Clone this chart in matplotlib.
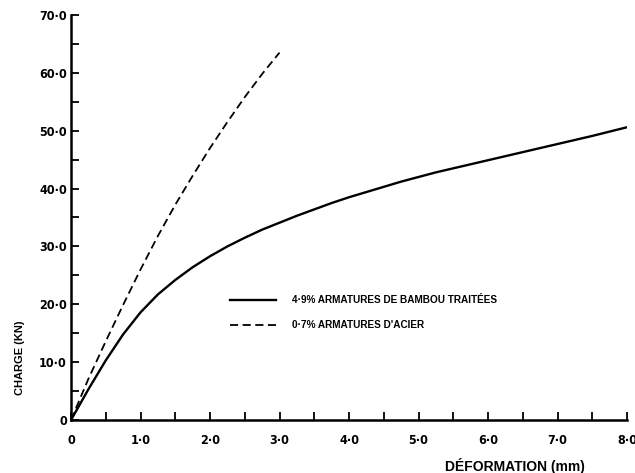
import matplotlib
matplotlib.use("Agg")
import matplotlib.pyplot as plt
from matplotlib.ticker import MultipleLocator

# Data
bamboo_x = [0, 0.25, 0.5, 0.75, 1.0, 1.25, 1.5, 1.75, 2.0, 2.25, 2.5, 2.75, 3.0, 3.25, 3.5, 3.75,
            4.0, 4.25, 4.5, 4.75, 5.0, 5.25, 5.5, 5.75, 6.0, 6.25, 6.5, 6.75, 7.0, 7.25, 7.5, 7.75, 8.0]
bamboo_y = [0, 5.3, 10.3, 14.8, 18.6, 21.7, 24.2, 26.4, 28.3, 30.0, 31.5, 32.9, 34.1, 35.3, 36.4, 37.5,
            38.5, 39.4, 40.3, 41.2, 42.0, 42.8, 43.5, 44.2, 44.9, 45.6, 46.3, 47.0, 47.7, 48.4, 49.1, 49.85, 50.6]

steel_x = [0, 0.25, 0.5, 0.75, 1.0, 1.25, 1.5, 1.75, 2.0, 2.25, 2.5, 2.75, 3.0]
steel_y = [0, 7.1, 13.6, 19.9, 26.0, 31.8, 37.2, 42.2, 47.0, 51.5, 55.8, 59.8, 63.5]

x_ticks = [0, 1, 2, 3, 4, 5, 6, 7, 8]
x_ticklabels = ["0", "1·0", "2·0", "3·0", "4·0", "5·0", "6·0", "7·0", "8·0"]
y_ticks = [0, 10, 20, 30, 40, 50, 60, 70]
y_ticklabels = ["0", "10·0", "20·0", "30·0", "40·0", "50·0", "60·0", "70·0"]

label_bamboo = "4·9% ARMATURES DE BAMBOU TRAITÉES"
label_steel = "0·7% ARMATURES D'ACIER"
xlabel = "DÉFORMATION (mm)"
ylabel = "CHARGE (KN)"

fig = plt.figure(figsize=(6.35, 4.73), dpi=100)
ax = fig.add_axes([71/635, 1 - 420/473, 556/635, 405/473])

ax.plot(bamboo_x, bamboo_y, color="black", lw=1.7, label=label_bamboo,
        solid_joinstyle="round")
ax.plot(steel_x, steel_y, color="black", lw=1.3, linestyle=(0, (4.5, 2.5)), label=label_steel)

ax.set_xlim(0, 8)
ax.set_ylim(0, 70)
ax.spines["top"].set_visible(False)
ax.spines["right"].set_visible(False)
for s in ("left", "bottom"):
    ax.spines[s].set_linewidth(1.8)

ax.set_xticks(x_ticks)
ax.set_xticklabels(x_ticklabels)
ax.set_yticks(y_ticks)
ax.set_yticklabels(y_ticklabels)
ax.xaxis.set_minor_locator(MultipleLocator(0.5))
ax.yaxis.set_minor_locator(MultipleLocator(5))
ax.tick_params(axis="both", which="both", direction="in", length=6, width=1.3, labelsize=9)
ax.tick_params(axis="x", which="major", pad=10)
ax.tick_params(axis="y", which="major", pad=3)
for lab in ax.get_xticklabels() + ax.get_yticklabels():
    lab.set_fontweight("bold")
    lab.set_fontstretch("condensed")

ax.set_xlabel(xlabel, fontsize=10, fontweight="bold", family="Liberation Sans")
ax.set_ylabel(ylabel, fontsize=8, fontweight="bold", family="Liberation Sans")
ax.xaxis.label.set_va("center")
ax.yaxis.label.set_va("center")
ax.xaxis.set_label_coords(0.799, -0.113)
ax.yaxis.set_label_coords(-0.092, 0.153)

leg = ax.legend(loc="center left", bbox_to_anchor=(0.27, 0.265), frameon=False,
                handlelength=4.6, handletextpad=1.6, labelspacing=1.5,
                prop={"family": "Liberation Sans", "weight": "bold", "size": 7.2})

fig.savefig("out.png", dpi=100)
